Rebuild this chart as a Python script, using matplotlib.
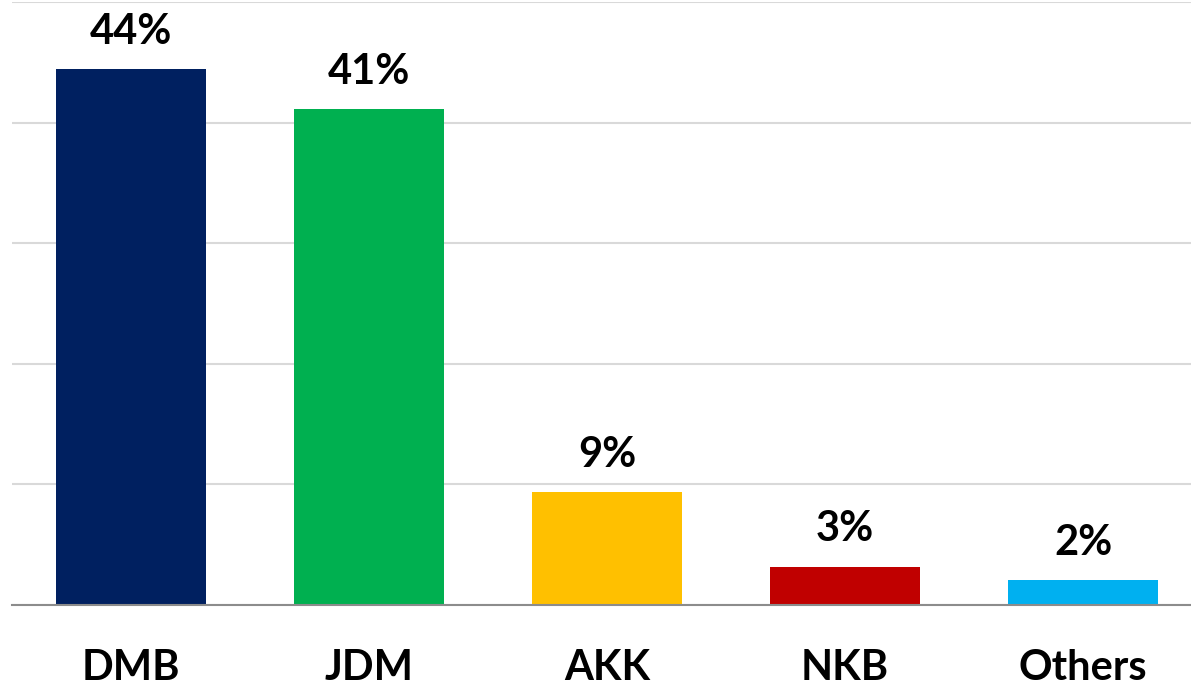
import matplotlib.pyplot as plt

# Vote share by party
parties = ["DMB", "JDM", "AKK", "NKB", "Others"]
shares = [44.4, 41.1, 9.3, 3.1, 2.0]
colors = ["#002060", "#00B050", "#FFC000", "#C00000", "#00B0F0"]

plt.rcParams["font.family"] = ["Lato", "DejaVu Sans"]

fig = plt.figure(figsize=(11.91, 6.87), dpi=100)
ax = fig.add_axes([12 / 1191, 1 - 604.5 / 687, 1190 / 1191, 602.5 / 687])

x = range(len(parties))
bars = ax.bar(x, shares, width=0.63, color=colors, zorder=3)

for rect, v in zip(bars, shares):
    ax.annotate(f"{v:.0f}%", (rect.get_x() + rect.get_width() / 2, v),
                xytext=(0, 18.5), textcoords="offset points",
                ha="center", va="baseline", fontsize=30, fontweight="bold")

ax.set_xlim(-0.5, len(parties) - 0.5)
ax.set_ylim(0, 50)
ax.set_yticks(range(0, 51, 10))
ax.set_yticklabels([])
ax.tick_params(axis="y", length=0)
ax.yaxis.grid(True, color="#D9D9D9", linewidth=1.5, zorder=0)

ax.set_xticks(list(x))
ax.set_xticklabels(parties, fontsize=30, fontweight="bold")
ax.tick_params(axis="x", length=0, pad=32)

for side in ["top", "right", "left"]:
    ax.spines[side].set_visible(False)
ax.spines["bottom"].set_color("#8C8C8C")
ax.spines["bottom"].set_linewidth(1.5)
ax.spines["bottom"].set_zorder(4)

fig.savefig("out.png", dpi=100)
